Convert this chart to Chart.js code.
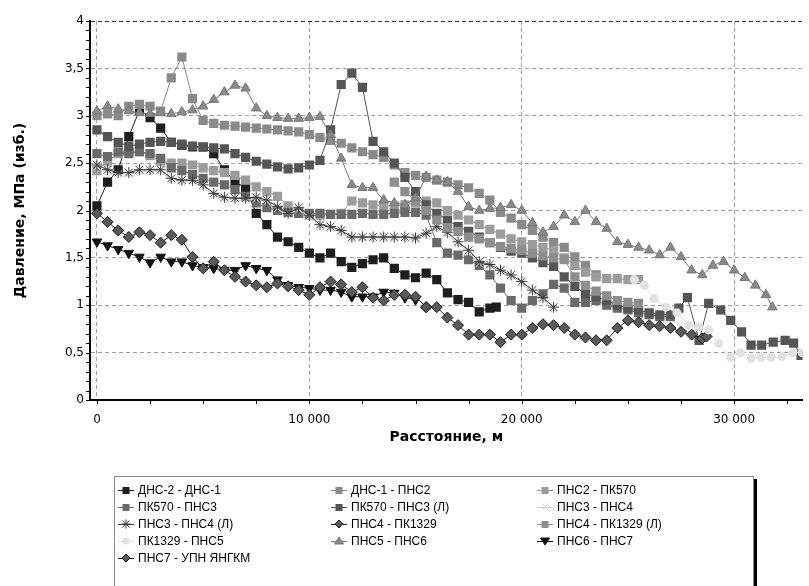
<!DOCTYPE html>
<html lang="ru">
<head>
<meta charset="UTF-8">
<title>Давление по участкам</title>
<script src="https://cdn.jsdelivr.net/npm/chart.js@4.4.0/dist/chart.umd.min.js"></script>
<style>
    body { margin: 0; background: #fff; }
    #wrap { position: relative; width: 809px; height: 586px; overflow: hidden; }
    #legend {
        position: absolute; left: 114px; top: 476px; width: 640px; height: 130px;
        box-sizing: border-box; border: 1px solid #8c8c8c; box-shadow: 3px 3px 0 #000;
        background: #fff; padding: 4px 0 0 3px;
        display: grid; grid-template-columns: 213px 206px 210px; grid-auto-rows: 17px;
        font: 12px Arial, "Liberation Sans", sans-serif; color: #000;
    }
    .item { display: flex; align-items: center; white-space: nowrap; }
    .item canvas { margin-right: 3px; }
</style>
</head>
<body>
<div id="wrap">
    <canvas id="pressChart" width="809" height="586"></canvas>
    <div id="legend"></div>
</div>
<script>
// distance grid, m (every 500 m)
const dist = [0,500,1000,1500,2000,2500,3000,3500,4000,4500,5000,5500,6000,6500,7000,7500,8000,8500,9000,9500,
    10000,10500,11000,11500,12000,12500,13000,13500,14000,14500,15000,15500,16000,16500,17000,17500,18000,18500,19000,19500,
    20000,20500,21000,21500,22000,22500,23000,23500,24000,24500,25000,25500,26000,26500,27000,27500,28000,28500,29000,29500,
    30000,30500,31000,31500];

// pressure, MPa
const dns2_dns1 = [2.05,2.3,2.43,2.78,3.06,2.98,2.87,2.72,2.69,2.67,2.67,2.6,2.43,2.3,2.24,1.97,1.85,1.72,1.67,1.61,
    1.55,1.5,1.55,1.46,1.4,1.44,1.48,1.5,1.39,1.32,1.29,1.34,1.27,1.13,1.06,1.03,0.93,0.97];
const dns1_pns2 = [3.0,3.02,3.0,3.1,3.12,3.1,3.05,3.4,3.62,3.18,2.95,2.92,2.9,2.89,2.88,2.87,2.86,2.85,2.84,2.83,
    2.8,2.77,2.74,2.71,2.66,2.62,2.59,2.56,2.48,2.4,2.37,2.35,2.32,2.3,2.27,2.24,2.18,2.11,1.98,1.92,
    1.85,1.79,1.72,1.66,1.61,1.51,1.42,1.32];
const pns2_pk570 = [2.42,2.52,2.6,2.62,2.62,2.58,2.52,2.5,2.5,2.48,2.45,2.42,2.4,2.37,2.32,2.25,2.2,2.15,2.05,1.98,
    1.95,1.95,1.96,1.97,2.1,2.08,2.06,2.05,2.05,2.06,2.08,2.1,2.08,2.0,1.95,1.9,1.85,1.8,1.75,1.7,
    1.67,1.64,1.61,1.58,1.5,1.42,1.35,1.3,1.28,1.28,1.27,1.27];
const pk570_pns3 = [2.6,2.57,2.62,2.6,2.62,2.6,2.55,2.45,2.42,2.38,2.34,2.3,2.27,2.22,2.15,2.08,2.03,2.0,1.98,1.97,
    1.97,1.97,1.96,1.96,1.96,1.97,1.96,1.96,1.97,1.98,1.98,1.95,1.66,1.55,1.53,1.48,1.42,1.32,1.18,1.05,
    0.97,1.05,1.12,1.22,1.18,1.03,1.03,1.05,1.0,0.97,0.95,0.92,0.9,0.88,0.88];
const pk570_pns3_l = [2.85,2.78,2.72,2.68,2.7,2.72,2.73,2.72,2.7,2.68,2.67,2.66,2.65,2.6,2.56,2.52,2.49,2.46,2.44,2.45,
    2.48,2.53,2.85,3.33,3.45,3.3,2.73,2.62,2.5,2.35,2.2,2.06,1.97,1.9,1.83,1.78,1.72,1.66,1.61,1.57,
    1.55,1.5,1.45,1.41,1.3,1.2,1.12,1.09,1.05,1.0,0.97,0.95,0.92,0.9,0.9];
const pk570_pns3_l_tailX = [27400,27800,28350,28800,29370,29840,30350,30800,31300,31840,32400,32800,33150];
const pk570_pns3_l_tail = [0.97,1.08,0.63,1.02,0.95,0.84,0.72,0.58,0.58,0.61,0.63,0.6,0.47];
const pns3_pns4 = [2.46,2.41,2.38,2.38,2.41,2.41,2.41,2.32,2.3,2.3,2.25,2.16,2.12,2.11,2.11,2.12,2.09,2.02,1.95,2.01,
    1.93,1.83,1.81,1.77,1.7,1.7,1.7,1.7,1.7,1.7,1.69,1.74,1.81,1.75,1.65,1.56,1.44,1.41,1.35,1.3,
    1.23,1.14,1.06,0.96];
const pns3_pns4_l = [2.48,2.43,2.4,2.4,2.43,2.43,2.43,2.34,2.32,2.32,2.27,2.18,2.14,2.13,2.13,2.14,2.11,2.04,1.97,2.03,
    1.95,1.85,1.83,1.79,1.72,1.72,1.72,1.72,1.72,1.72,1.71,1.76,1.83,1.77,1.67,1.58,1.46,1.43,1.37,1.32,
    1.25,1.16,1.08,0.98];
const pns4_pk1329 = [0.98,0.98,0.87,0.79,0.69,0.69,0.69,0.61,0.69,0.69,0.76,0.8,0.79,0.76,0.69,0.66,0.63,0.63,0.76,0.84,
    0.82,0.79,0.78,0.76,0.72,0.69,0.65];
const pns4_pk1329_l = [2.3,2.2,2.1,2.0,1.9,1.82,1.78,1.72,1.7,1.66,1.62,1.6,1.58,1.55,1.52,1.5,1.48,1.3,1.21,1.15,
    1.1,1.05,1.03,1.02];
const pk1329_pns5_x = [25300,25770,26240,26800,27310,27870,28330,28800,29270,29820,30290,30800,31270,31740,32260,32760,33200];
const pk1329_pns5 = [1.27,1.21,1.07,0.98,0.92,0.79,0.77,0.74,0.6,0.45,0.5,0.44,0.45,0.45,0.46,0.5,0.5];
const pns5_pns6 = [3.05,3.1,3.07,3.05,3.03,3.02,3.03,3.02,3.04,3.06,3.1,3.17,3.25,3.32,3.29,3.08,3.0,2.98,2.97,2.97,
    2.98,2.99,2.8,2.55,2.27,2.24,2.24,2.11,2.08,2.06,2.13,2.36,2.32,2.3,2.2,2.04,2.0,2.02,2.03,2.06,
    2.0,1.87,1.77,1.83,1.95,1.88,2.0,1.88,1.81,1.67,1.64,1.61,1.58,1.53,1.61,1.51,1.37,1.32,1.42,1.46,
    1.37,1.29,1.21,1.11];
const pns6_pns7 = [1.67,1.63,1.59,1.55,1.51,1.45,1.51,1.46,1.46,1.42,1.4,1.39,1.37,1.37,1.42,1.39,1.37,1.27,1.21,1.19,
    1.18,1.16,1.16,1.14,1.09,1.09,1.09,1.14,1.13,1.08,1.06];
const pns7_upn = [1.97,1.88,1.79,1.72,1.77,1.74,1.66,1.74,1.69,1.51,1.39,1.46,1.37,1.3,1.25,1.21,1.19,1.23,1.2,1.16,
    1.11,1.19,1.25,1.22,1.14,1.19,1.08,1.05,1.11,1.11,1.09,0.98];

const yTicks = [0, 0.5, 1, 1.5, 2, 2.5, 3, 3.5, 4];
const xTicks = [0, 10000, 20000, 30000];

function pts(xs, ys) {
    return ys.map((y, i) => ({ x: xs[i], y: y }));
}

const series = [
    { label: "ДНС-2 - ДНС-1", data: pts(dist, dns2_dns1).concat([{ x: 18800, y: 0.98 }]), fill: "#1e1e1e", style: "rect", r: 6.5 },
    { label: "ДНС-1 - ПНС2", data: pts(dist, dns1_pns2), fill: "#8a8a8a", style: "rect", r: 6.5 },
    { label: "ПНС2 - ПК570", data: pts(dist, pns2_pk570), fill: "#9c9c9c", style: "rect", r: 6.5 },
    { label: "ПК570 - ПНС3", data: pts(dist, pk570_pns3), fill: "#6a6a6a", style: "rect", r: 6.5 },
    { label: "ПК570 - ПНС3 (Л)", data: pts(dist, pk570_pns3_l).concat(pts(pk570_pns3_l_tailX, pk570_pns3_l_tail)), fill: "#555555", style: "rect", r: 6.5 },
    { label: "ПНС3 - ПНС4", data: pts(dist, pns3_pns4), fill: "#cfcfcf", stroke: "#cfcfcf", style: "crossRot", r: 5, bw: 1 },
    { label: "ПНС3 - ПНС4 (Л)", data: pts(dist, pns3_pns4_l), fill: "#3c3c3c", stroke: "#3c3c3c", style: "star", r: 5.5, bw: 1 },
    { label: "ПНС4 - ПК1329", data: pts(dist.slice(31), pns4_pk1329).concat([{ x: 28700, y: 0.67 }]), fill: "#5a5a5a", stroke: "#1a1a1a", style: "rectRot", r: 5.5, bw: 1 },
    { label: "ПНС4 - ПК1329 (Л)", data: pts(dist.slice(28), pns4_pk1329_l), fill: "#8e8e8e", style: "rect", r: 6.5 },
    { label: "ПК1329 - ПНС5", data: pts(pk1329_pns5_x, pk1329_pns5), fill: "#e2e2e2", style: "circle", r: 4.5 },
    { label: "ПНС5 - ПНС6", data: pts(dist, pns5_pns6).concat([{ x: 31800, y: 0.98 }]), fill: "#8a8a8a", stroke: "#777777", style: "triangle", r: 5.5, bw: 1 },
    { label: "ПНС6 - ПНС7", data: pts(dist, pns6_pns7), fill: "#111111", stroke: "#111111", style: "triangle", r: 5.5, bw: 1, rot: 180 },
    { label: "ПНС7 - УПН ЯНГКМ", data: pts(dist, pns7_upn), fill: "#5a5a5a", stroke: "#1a1a1a", style: "rectRot", r: 5.5, bw: 1 }
];

const datasets = series.map((s, i) => ({
    label: s.label,
    data: s.data,
    showLine: true,
    borderColor: s.stroke || s.fill,
    borderWidth: 1,
    backgroundColor: s.fill,
    pointStyle: s.style,
    pointRadius: s.r,
    pointHoverRadius: s.r,
    pointBackgroundColor: s.fill,
    pointBorderColor: s.stroke || s.fill,
    pointBorderWidth: s.bw || 0,
    pointRotation: s.rot || 0,
    order: series.length - i
}));

const minorTicks = {
    id: "minorTicks",
    afterDraw(chart) {
        const ctx = chart.ctx, xs = chart.scales.x, ys = chart.scales.y, a = chart.chartArea;
        ctx.save();
        ctx.strokeStyle = "#000";
        ctx.lineWidth = 1;
        ctx.beginPath();
        for (let v = 0; v <= 40; v++) {
            const py = Math.round(ys.getPixelForValue(v / 10)) + 0.5;
            ctx.moveTo(a.left - 4, py);
            ctx.lineTo(a.left, py);
        }
        for (let v = 0; v <= 32500; v += 2500) {
            const px = Math.round(xs.getPixelForValue(v)) + 0.5;
            ctx.moveTo(px, a.bottom);
            ctx.lineTo(px, a.bottom + 4);
        }
        ctx.stroke();
        ctx.restore();
    }
};

const tickFont = { family: "'DejaVu Sans', sans-serif", size: 12 };
const titleFont = { family: "'DejaVu Sans', sans-serif", size: 14, weight: "bold" };

new Chart(document.getElementById("pressChart"), {
    type: "scatter",
    data: { datasets: datasets },
    options: {
        responsive: false,
        animation: false,
        events: [],
        layout: { padding: { top: 21, right: 0, bottom: 126, left: 0 } },
        plugins: { legend: { display: false }, tooltip: { enabled: false } },
        elements: { line: { tension: 0 } },
        scales: {
            x: {
                type: "linear",
                min: -327,
                max: 33219,
                afterBuildTicks: (scale) => { scale.ticks = xTicks.map(v => ({ value: v })); },
                afterFit: (scale) => { scale.height = 60; },
                ticks: {
                    color: "#000", font: tickFont, padding: 13, maxRotation: 0,
                    callback: (v) => String(v).replace(/\B(?=(\d{3})+(?!\d))/g, " ")
                },
                grid: { color: "#a0a0a0", lineWidth: 1, drawTicks: false },
                border: { display: true, color: "#000", width: 2, dash: [4, 3] },
                title: { display: true, text: "Расстояние, м", color: "#000", font: titleFont, padding: { top: 0, bottom: 14 } }
            },
            y: {
                min: 0,
                max: 4,
                afterBuildTicks: (scale) => { scale.ticks = yTicks.map(v => ({ value: v })); },
                afterFit: (scale) => { scale.width = 90; },
                ticks: {
                    color: "#000", font: tickFont, padding: 6,
                    callback: (v) => String(v).replace(".", ",")
                },
                grid: {
                    color: (c) => (c.tick && c.tick.value === 4 ? "#333" : "#a0a0a0"),
                    lineWidth: 1, drawTicks: false
                },
                border: { display: true, color: "#000", width: 2, dash: [4, 3] },
                title: { display: true, text: "Давление, МПа (изб.)", color: "#000", font: titleFont, padding: { top: 12, bottom: 0 } }
            }
        }
    },
    plugins: [minorTicks]
});

// legend below the chart, three columns like the original
function drawMarker(ctx, s, cx, cy) {
    ctx.strokeStyle = s.stroke || s.fill;
    ctx.fillStyle = s.fill;
    ctx.lineWidth = 1;
    ctx.beginPath();
    ctx.moveTo(0, cy + 0.5);
    ctx.lineTo(16, cy + 0.5);
    ctx.stroke();
    const r = 3.5;
    ctx.beginPath();
    if (s.style === "rect") {
        ctx.fillRect(cx - r, cy - r + 0.5, 2 * r, 2 * r);
    } else if (s.style === "rectRot") {
        ctx.moveTo(cx, cy - 4); ctx.lineTo(cx + 4, cy); ctx.lineTo(cx, cy + 4); ctx.lineTo(cx - 4, cy); ctx.closePath();
        ctx.fill(); ctx.stroke();
    } else if (s.style === "triangle") {
        const d = s.rot ? -1 : 1;
        ctx.moveTo(cx, cy - 4 * d); ctx.lineTo(cx + 4.5, cy + 3 * d); ctx.lineTo(cx - 4.5, cy + 3 * d); ctx.closePath();
        ctx.fill(); ctx.stroke();
    } else if (s.style === "circle") {
        ctx.arc(cx, cy, 3.5, 0, Math.PI * 2);
        ctx.fill();
    } else {
        ctx.moveTo(cx - 3.5, cy - 3.5); ctx.lineTo(cx + 3.5, cy + 3.5);
        ctx.moveTo(cx + 3.5, cy - 3.5); ctx.lineTo(cx - 3.5, cy + 3.5);
        if (s.style === "star") {
            ctx.moveTo(cx, cy - 4.5); ctx.lineTo(cx, cy + 4.5);
            ctx.moveTo(cx - 4.5, cy); ctx.lineTo(cx + 4.5, cy);
        }
        ctx.stroke();
    }
}

const legendBox = document.getElementById("legend");
series.forEach(s => {
    const item = document.createElement("div");
    item.className = "item";
    const c = document.createElement("canvas");
    c.width = 17; c.height = 12;
    drawMarker(c.getContext("2d"), s, 8, 6);
    const t = document.createElement("span");
    t.textContent = s.label;
    item.appendChild(c);
    item.appendChild(t);
    legendBox.appendChild(item);
});
</script>
</body>
</html>
